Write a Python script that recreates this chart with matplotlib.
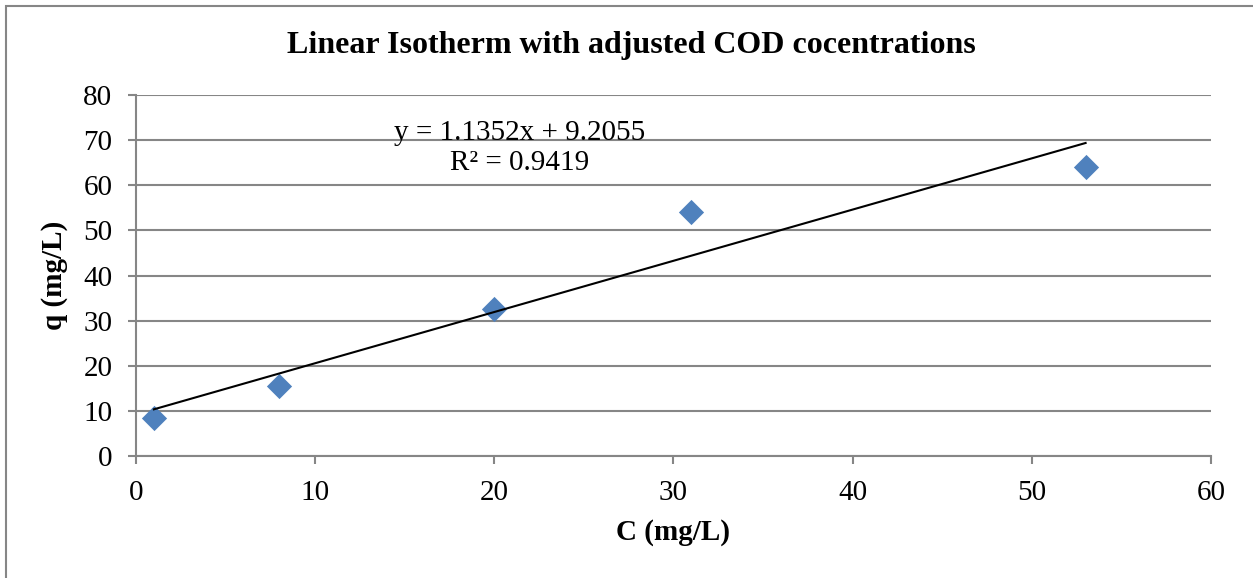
import numpy as np
import matplotlib.pyplot as plt

# concentracoes ajustadas de DQO
c = [1, 8, 20, 31, 53]
q = [8.5, 15.5, 32.5, 54.0, 64.1]

# linha de tendencia (Excel)
inclinacao = 1.1352
intercepto = 9.2055
r2 = 0.9419

plt.rcParams['font.family'] = ['Liberation Serif', 'DejaVu Serif']

fig = plt.figure(figsize=(12.53, 5.78), dpi=100)
ax = fig.add_axes([0.1085, 0.2111, 0.858, 0.6245])

# borda da area do grafico
fig.patches.append(plt.Rectangle((0.005, -0.01), 1.2, 1.0, transform=fig.transFigure,
                                 fill=False, edgecolor='#868686', linewidth=1.5))

ax.scatter(c, q, marker='D', s=165, color='#4F81BD', zorder=3, linewidths=0)

xs = np.array([c[0], c[-1]])
ax.plot(xs, inclinacao * xs + intercepto, color='black', linewidth=1.5, zorder=4)

ax.text(21.4, 71.6, 'y = %.4fx + %.4f' % (inclinacao, intercepto), ha='center', va='center', fontsize=21)
ax.text(21.4, 65.0, 'R² = %.4f' % r2, ha='center', va='center', fontsize=21)

ax.set_xlim(0, 60)
ax.set_ylim(0, 80)
ax.set_xticks(range(0, 61, 10))
ax.set_yticks(range(0, 81, 10))
ax.yaxis.grid(True, color='#868686', linewidth=1.5)
ax.set_axisbelow(True)
for s in ['top', 'right']:
    ax.spines[s].set_visible(False)
for s in ['left', 'bottom']:
    ax.spines[s].set_color('#868686')
    ax.spines[s].set_linewidth(1.5)
ax.tick_params(axis='both', labelsize=21, color='#868686', width=1.5, length=6, direction='out')
ax.tick_params(axis='y', pad=11)
ax.tick_params(axis='x', pad=11)

ax.set_xlabel('C (mg/L)', fontsize=21, fontweight='bold', labelpad=10)
ax.set_ylabel('q (mg/L)', fontsize=21, fontweight='bold', labelpad=11)
fig.text(0.504, 0.922, 'Linear Isotherm with adjusted COD cocentrations', ha='center', va='center',
         fontsize=23, fontweight='bold')

plt.savefig('out.png', dpi=100)
